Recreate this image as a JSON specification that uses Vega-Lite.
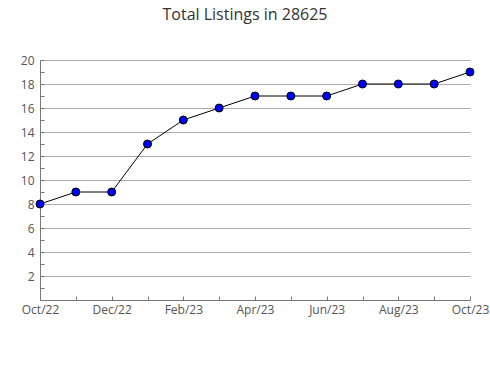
{
  "$schema": "https://vega.github.io/schema/vega-lite/v6.json",
  "width": 430,
  "height": 240,
  "autosize": "none",
  "padding": {"left": 40, "top": 60, "right": 20, "bottom": 80},
  "background": "white",
  "title": {"text": "Total Listings in 28625", "font": "Open Sans", "fontSize": 16, "fontWeight": "normal", "color": "#333", "anchor": "middle", "offset": 31, "dx": -10},
  "data": {"values": [
    {"month": "Oct/22", "listings": 8},
    {"month": "Nov/22", "listings": 9},
    {"month": "Dec/22", "listings": 9},
    {"month": "Jan/23", "listings": 13},
    {"month": "Feb/23", "listings": 15},
    {"month": "Mar/23", "listings": 16},
    {"month": "Apr/23", "listings": 17},
    {"month": "May/23", "listings": 17},
    {"month": "Jun/23", "listings": 17},
    {"month": "Jul/23", "listings": 18},
    {"month": "Aug/23", "listings": 18},
    {"month": "Sep/23", "listings": 18},
    {"month": "Oct/23", "listings": 19}
  ]},
  "config": {
    "view": {"stroke": null},
    "axis": {"labelFont": "Open Sans", "labelFontSize": 12, "labelColor": "#555", "domainColor": "#777", "tickColor": "#777", "title": null}
  },
  "encoding": {
    "x": {"field": "month", "type": "ordinal", "sort": null, "scale": {"type": "point", "padding": 0},
      "axis": {"labelAngle": 0, "grid": false, "tickSize": -4, "labelPadding": 8,
        "labelExpr": "indexof(['Oct/22','Dec/22','Feb/23','Apr/23','Jun/23','Aug/23','Oct/23'], datum.value) >= 0 ? datum.value : ''"}},
    "y": {"field": "listings", "type": "quantitative", "scale": {"domain": [0, 20], "nice": false},
      "axis": {"values": [1,2,3,4,5,6,7,8,9,10,11,12,13,14,15,16,17,18,19,20], "tickSize": -4, "labelPadding": 10,
        "labelExpr": "datum.value % 2 == 0 ? datum.label : ''",
        "grid": true, "gridColor": {"condition": {"test": "datum.value % 2 == 1", "value": "transparent"}, "value": "#aaa"}}}
  },
  "layer": [
    {"mark": {"type": "line", "color": "black", "strokeWidth": 1}},
    {"mark": {"type": "point", "filled": true, "fill": "#0000ff", "stroke": "black", "strokeWidth": 1, "size": 64, "opacity": 1}}
  ]
}
